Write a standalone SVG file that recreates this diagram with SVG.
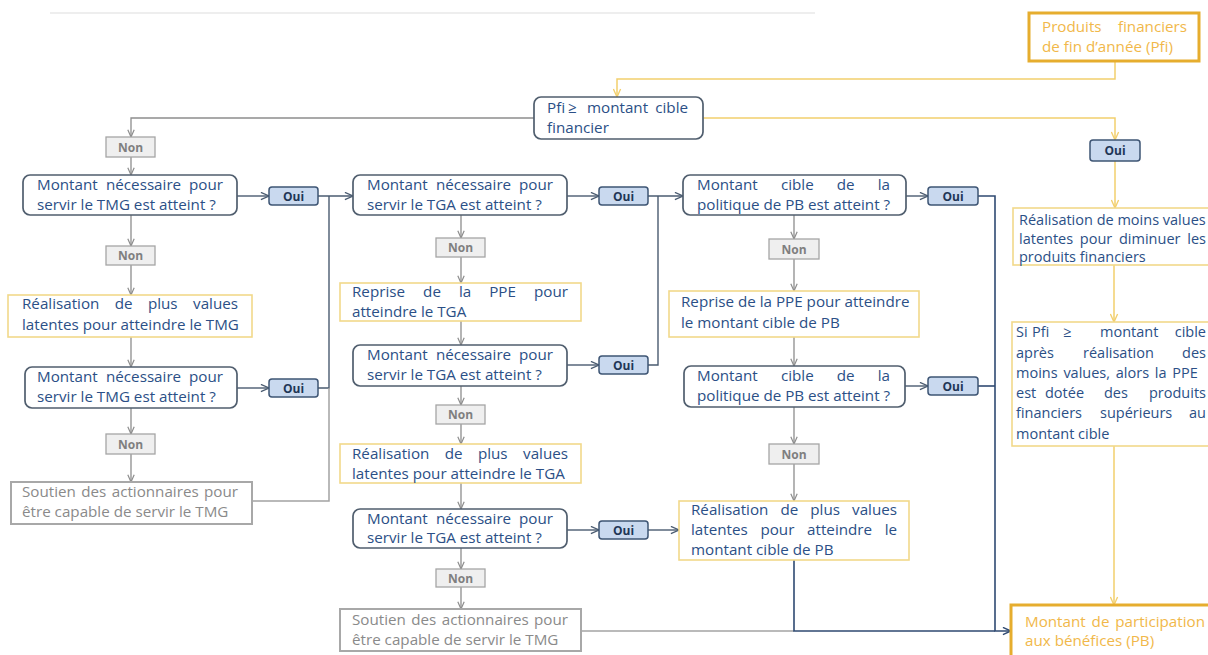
<svg xmlns="http://www.w3.org/2000/svg" width="1208" height="655" viewBox="0 0 1208 655">
  <defs>
    <style>
      .t { font-family: "Open Sans", "Noto Sans", sans-serif; font-size: 15.2px; fill: #2b4f86; }
      .s { font-size: 14.5px; }
      .e { text-anchor: end; }
      .tg { fill: #8a8a8a; }
      .to { fill: #f1b84a; }
      .lab { font-family: "Open Sans", "Noto Sans", sans-serif; font-weight: bold; font-size: 12px; text-anchor: middle; }
      .oui rect { fill: #c9d9ef; stroke: #3e5574; stroke-width: 1.5; }
      .oui text { fill: #1f3656; }
      .non rect { fill: #efefef; stroke: #a5a5a5; stroke-width: 1.3; }
      .non text { fill: #7f7f7f; }
      .dec { fill: #ffffff; stroke: #505e6e; stroke-width: 1.7; }
      .act { fill: #ffffff; stroke: #f2d98a; stroke-width: 1.6; }
      .sup { fill: #ffffff; stroke: #a8a8a8; stroke-width: 2; }
      .key { fill: #ffffff; stroke: #e6ad2e; stroke-width: 3; }
      .cg { fill: none; stroke: #8d8d8d; stroke-width: 1.3; }
      .cs { fill: none; stroke: #4a5b70; stroke-width: 1.4; }
      .cy { fill: none; stroke: #f2cf6d; stroke-width: 1.5; }
      .cb { fill: none; stroke: #2f4a72; stroke-width: 1.6; }
      .cl { fill: none; stroke: #a3a3a3; stroke-width: 1.5; }
    </style>
    <marker id="ag" viewBox="0 0 10 10" refX="10" refY="5" markerWidth="8" markerHeight="8" markerUnits="userSpaceOnUse" orient="auto">
      <path d="M1,1 L10,5 L1,9" fill="none" stroke="#8d8d8d" stroke-width="1.5"/>
    </marker>
    <marker id="as" viewBox="0 0 10 10" refX="10" refY="5" markerWidth="9" markerHeight="9" markerUnits="userSpaceOnUse" orient="auto">
      <path d="M1,1 L10,5 L1,9" fill="none" stroke="#4a5b70" stroke-width="1.5"/>
    </marker>
    <marker id="ay" viewBox="0 0 10 10" refX="10" refY="5" markerWidth="9" markerHeight="9" markerUnits="userSpaceOnUse" orient="auto">
      <path d="M1,1 L10,5 L1,9" fill="none" stroke="#f2cf6d" stroke-width="1.5"/>
    </marker>
    <marker id="ab" viewBox="0 0 10 10" refX="10" refY="5" markerWidth="9" markerHeight="9" markerUnits="userSpaceOnUse" orient="auto">
      <path d="M1,1 L10,5 L1,9" fill="none" stroke="#2f4a72" stroke-width="1.6"/>
    </marker>
  </defs>

  <rect width="1208" height="655" fill="#ffffff"/>
  <!-- faint page rule at the top -->
  <line x1="50" y1="13" x2="815" y2="13" stroke="#eeeeee" stroke-width="2"/>

  <g id="connectors">
    <!-- yellow flow -->
    <polyline class="cy" points="1115,62 1115,79 617,79 617,97" marker-end="url(#ay)"/>
    <polyline class="cy" points="703,118 1115,118 1115,140" marker-end="url(#ay)"/>
    <line class="cy" x1="1115" y1="161" x2="1115" y2="208" marker-end="url(#ay)"/>
    <line class="cy" x1="1114" y1="265" x2="1114" y2="322" marker-end="url(#ay)"/>
    <line class="cy" x1="1114" y1="446" x2="1114" y2="605" marker-end="url(#ay)"/>

    <!-- left column -->
    <polyline class="cg" points="534,118 131,118 131,137" marker-end="url(#ag)"/>
    <line class="cg" x1="131" y1="157" x2="131" y2="175" marker-end="url(#ag)"/>
    <line class="cg" x1="131" y1="215" x2="131" y2="246" marker-end="url(#ag)"/>
    <line class="cg" x1="131" y1="265" x2="131" y2="295" marker-end="url(#ag)"/>
    <line class="cg" x1="131" y1="337" x2="131" y2="367" marker-end="url(#ag)"/>
    <line class="cg" x1="131" y1="408" x2="131" y2="434" marker-end="url(#ag)"/>
    <line class="cg" x1="131" y1="454" x2="131" y2="482" marker-end="url(#ag)"/>

    <line class="cs" x1="237" y1="196" x2="269" y2="196" marker-end="url(#as)"/>
    <line class="cs" x1="318" y1="196" x2="353" y2="196" marker-end="url(#as)"/>
    <line class="cs" x1="237" y1="388" x2="269" y2="388" marker-end="url(#as)"/>
    <polyline class="cs" points="318,388 329,388 329,196"/>
    <polyline class="cl" points="252,501 329,501 329,388"/>

    <!-- middle column -->
    <line class="cg" x1="461" y1="215" x2="461" y2="238" marker-end="url(#ag)"/>
    <line class="cg" x1="461" y1="257" x2="461" y2="283" marker-end="url(#ag)"/>
    <line class="cg" x1="461" y1="321" x2="461" y2="345" marker-end="url(#ag)"/>
    <line class="cg" x1="461" y1="386" x2="461" y2="405" marker-end="url(#ag)"/>
    <line class="cg" x1="461" y1="424" x2="461" y2="444" marker-end="url(#ag)"/>
    <line class="cg" x1="461" y1="483" x2="461" y2="509" marker-end="url(#ag)"/>
    <line class="cg" x1="461" y1="548" x2="461" y2="569" marker-end="url(#ag)"/>
    <line class="cg" x1="461" y1="587" x2="461" y2="609" marker-end="url(#ag)"/>

    <line class="cs" x1="567" y1="196" x2="599" y2="196" marker-end="url(#as)"/>
    <line class="cs" x1="648" y1="196" x2="683" y2="196" marker-end="url(#as)"/>
    <line class="cs" x1="567" y1="365" x2="599" y2="365" marker-end="url(#as)"/>
    <polyline class="cs" points="648,365 658,365 658,196"/>
    <line class="cs" x1="567" y1="530" x2="599" y2="530" marker-end="url(#as)"/>
    <line class="cs" x1="648" y1="530" x2="679" y2="530" marker-end="url(#as)"/>
    <line class="cl" x1="581" y1="631" x2="794" y2="631"/>

    <!-- right column -->
    <line class="cg" x1="794" y1="215" x2="794" y2="239" marker-end="url(#ag)"/>
    <line class="cg" x1="794" y1="259" x2="794" y2="291" marker-end="url(#ag)"/>
    <line class="cg" x1="794" y1="337" x2="794" y2="366" marker-end="url(#ag)"/>
    <line class="cg" x1="794" y1="407" x2="794" y2="444" marker-end="url(#ag)"/>
    <line class="cg" x1="794" y1="464" x2="794" y2="501" marker-end="url(#ag)"/>

    <line class="cs" x1="906" y1="196" x2="928" y2="196" marker-end="url(#as)"/>
    <line class="cs" x1="905" y1="386" x2="928" y2="386" marker-end="url(#as)"/>
    <polyline class="cb" points="978,196 995,196 995,631 1011,631" marker-end="url(#ab)"/>
    <line class="cb" x1="978" y1="386" x2="995" y2="386"/>
    <polyline class="cb" points="794,560 794,631 995,631"/>
  </g>

  <g id="pfi-source">
    <rect class="key" x="1029" y="13" width="170" height="48"/>
    <text class="t to" x="1042" y="32">Produits</text>
    <text class="t to e" x="1187" y="32">financiers</text>
    <text class="t to" x="1042" y="52">de fin d’année (Pfi)</text>
  </g>

  <g id="pfi-test">
    <rect class="dec" x="534" y="97" width="169" height="42" rx="7"/>
    <text class="t" y="113"><tspan x="547">Pfi</tspan><tspan x="568">≥</tspan><tspan x="587">montant</tspan></text>
    <text class="t e" x="688" y="113">cible</text>
    <text class="t" x="547" y="133">financier</text>
  </g>

  <!-- left column: TMG -->
  <g id="non-1" class="non"><rect x="106" y="137" width="49" height="20"/><text class="lab" x="130.5" y="151.5">Non</text></g>
  <g id="tmg-test-1">
    <rect class="dec" x="23" y="175" width="214" height="40" rx="7"/>
    <text class="t" y="190"><tspan x="37">Montant</tspan><tspan x="106">nécessaire</tspan></text>
    <text class="t e" x="223" y="190">pour</text>
    <text class="t" x="37" y="210">servir le TMG est atteint ?</text>
  </g>
  <g id="oui-1" class="oui"><rect x="269" y="187" width="49" height="18" rx="3"/><text class="lab" x="293.5" y="200.5">Oui</text></g>
  <g id="non-2" class="non"><rect x="106" y="246" width="49" height="19"/><text class="lab" x="130.5" y="260">Non</text></g>
  <g id="tmg-pv">
    <rect class="act" x="8" y="295" width="244" height="42"/>
    <text class="t" y="309"><tspan x="22">Réalisation</tspan><tspan x="114.8">de</tspan><tspan x="147.9">plus</tspan></text>
    <text class="t e" x="238" y="309">values</text>
    <text class="t" x="22" y="330">latentes pour atteindre le TMG</text>
  </g>
  <g id="tmg-test-2">
    <rect class="dec" x="25" y="367" width="212" height="41" rx="7"/>
    <text class="t" y="382"><tspan x="37">Montant</tspan><tspan x="106">nécessaire</tspan></text>
    <text class="t e" x="223" y="382">pour</text>
    <text class="t" x="37" y="402">servir le TMG est atteint ?</text>
  </g>
  <g id="oui-2" class="oui"><rect x="269" y="379" width="49" height="18" rx="3"/><text class="lab" x="293.5" y="392.5">Oui</text></g>
  <g id="non-3" class="non"><rect x="106" y="434" width="49" height="20"/><text class="lab" x="130.5" y="448.5">Non</text></g>
  <g id="tmg-soutien">
    <rect class="sup" x="11" y="482" width="241" height="42"/>
    <text class="t tg" y="497"><tspan x="22">Soutien</tspan><tspan x="81.2">des</tspan><tspan x="111.7">actionnaires</tspan></text>
    <text class="t tg e" x="238" y="497">pour</text>
    <text class="t tg" x="22" y="517">être capable de servir le TMG</text>
  </g>

  <!-- middle column: TGA -->
  <g id="tga-test-1">
    <rect class="dec" x="353" y="175" width="214" height="40" rx="7"/>
    <text class="t" y="190"><tspan x="367">Montant</tspan><tspan x="436">nécessaire</tspan></text>
    <text class="t e" x="553" y="190">pour</text>
    <text class="t" x="367" y="210">servir le TGA est atteint ?</text>
  </g>
  <g id="oui-b1" class="oui"><rect x="599" y="187" width="49" height="18" rx="3"/><text class="lab" x="623.5" y="200.5">Oui</text></g>
  <g id="non-b1" class="non"><rect x="436" y="238" width="49" height="19"/><text class="lab" x="460.5" y="252">Non</text></g>
  <g id="tga-ppe">
    <rect class="act" x="340" y="283" width="241" height="38"/>
    <text class="t" y="297"><tspan x="352">Reprise</tspan><tspan x="423.1">de</tspan><tspan x="458.9">la</tspan><tspan x="489.2">PPE</tspan></text>
    <text class="t e" x="568" y="297">pour</text>
    <text class="t" x="352" y="317">atteindre le TGA</text>
  </g>
  <g id="tga-test-2">
    <rect class="dec" x="353" y="345" width="214" height="41" rx="7"/>
    <text class="t" y="359.5"><tspan x="367">Montant</tspan><tspan x="436">nécessaire</tspan></text>
    <text class="t e" x="553" y="359.5">pour</text>
    <text class="t" x="367" y="379.5">servir le TGA est atteint ?</text>
  </g>
  <g id="oui-b2" class="oui"><rect x="599" y="356" width="49" height="18" rx="3"/><text class="lab" x="623.5" y="369.5">Oui</text></g>
  <g id="non-b2" class="non"><rect x="436" y="405" width="49" height="19"/><text class="lab" x="460.5" y="419">Non</text></g>
  <g id="tga-pv">
    <rect class="act" x="340" y="444" width="241" height="39"/>
    <text class="t" y="459"><tspan x="352">Réalisation</tspan><tspan x="444.8">de</tspan><tspan x="477.9">plus</tspan></text>
    <text class="t e" x="568" y="459">values</text>
    <text class="t" x="352" y="479">latentes pour atteindre le TGA</text>
  </g>
  <g id="tga-test-3">
    <rect class="dec" x="353" y="509" width="214" height="39" rx="7"/>
    <text class="t" y="524"><tspan x="367">Montant</tspan><tspan x="436">nécessaire</tspan></text>
    <text class="t e" x="553" y="524">pour</text>
    <text class="t" x="367" y="543">servir le TGA est atteint ?</text>
  </g>
  <g id="oui-b3" class="oui"><rect x="599" y="521" width="49" height="18" rx="3"/><text class="lab" x="623.5" y="534.5">Oui</text></g>
  <g id="non-b3" class="non"><rect x="436" y="569" width="49" height="18"/><text class="lab" x="460.5" y="582.5">Non</text></g>
  <g id="tga-soutien">
    <rect class="sup" x="340" y="609" width="241" height="42"/>
    <text class="t tg" y="625"><tspan x="352">Soutien</tspan><tspan x="411.2">des</tspan><tspan x="441.7">actionnaires</tspan></text>
    <text class="t tg e" x="568" y="625">pour</text>
    <text class="t tg" x="352" y="645">être capable de servir le TMG</text>
  </g>

  <!-- right column: PB target -->
  <g id="pb-test-1">
    <rect class="dec" x="683" y="175" width="223" height="40" rx="7"/>
    <text class="t" y="190"><tspan x="697">Montant</tspan><tspan x="780.9">cible</tspan><tspan x="836.8">de</tspan></text>
    <text class="t e" x="890" y="190">la</text>
    <text class="t" x="697" y="210">politique de PB est atteint ?</text>
  </g>
  <g id="oui-c1" class="oui"><rect x="928" y="187" width="50" height="18" rx="3"/><text class="lab" x="953" y="200.5">Oui</text></g>
  <g id="non-c1" class="non"><rect x="769" y="239" width="50" height="20"/><text class="lab" x="794" y="253.5">Non</text></g>
  <g id="pb-ppe">
    <rect class="act" x="669" y="291" width="250" height="46"/>
    <text class="t" x="681" y="307">Reprise de la PPE pour atteindre</text>
    <text class="t" x="681" y="328">le montant cible de PB</text>
  </g>
  <g id="pb-test-2">
    <rect class="dec" x="684" y="366" width="221" height="41" rx="7"/>
    <text class="t" y="380.5"><tspan x="697">Montant</tspan><tspan x="780.9">cible</tspan><tspan x="836.8">de</tspan></text>
    <text class="t e" x="890" y="380.5">la</text>
    <text class="t" x="697" y="400.5">politique de PB est atteint ?</text>
  </g>
  <g id="oui-c2" class="oui"><rect x="928" y="377" width="50" height="18" rx="3"/><text class="lab" x="953" y="390.5">Oui</text></g>
  <g id="non-c2" class="non"><rect x="769" y="444" width="50" height="20"/><text class="lab" x="794" y="458.5">Non</text></g>
  <g id="pb-pv">
    <rect class="act" x="679" y="501" width="230" height="59"/>
    <text class="t" y="515"><tspan x="691">Réalisation</tspan><tspan x="780.5">de</tspan><tspan x="810.3">plus</tspan></text>
    <text class="t e" x="897" y="515">values</text>
    <text class="t" y="535"><tspan x="691">latentes</tspan><tspan x="760.4">pour</tspan><tspan x="807.1">atteindre</tspan></text>
    <text class="t e" x="897" y="535">le</text>
    <text class="t" x="691" y="555">montant cible de PB</text>
  </g>

  <!-- far right: Pfi above target -->
  <g id="oui-d" class="oui"><rect x="1090" y="140" width="50" height="21" rx="3"/><text class="lab" x="1115" y="155">Oui</text></g>
  <g id="mv-realisation">
    <rect class="act" x="1013" y="208" width="210" height="57"/>
    <text class="t s" x="1019" y="225">Réalisation de moins values</text>
    <text class="t s" y="244"><tspan x="1019">latentes</tspan><tspan x="1079.8">pour</tspan><tspan x="1119">diminuer</tspan></text>
    <text class="t s e" x="1206" y="244">les</text>
    <text class="t s" x="1019" y="262">produits financiers</text>
  </g>
  <g id="ppe-dotation">
    <rect class="act" x="1012" y="322" width="210" height="124"/>
    <text class="t s" y="337"><tspan x="1016">Si</tspan><tspan x="1032">Pfi</tspan><tspan x="1063">≥</tspan><tspan x="1100">montant</tspan></text>
    <text class="t s e" x="1206" y="337">cible</text>
    <text class="t s" y="357.5"><tspan x="1016">après</tspan><tspan x="1083">réalisation</tspan></text>
    <text class="t s e" x="1206" y="357.5">des</text>
    <text class="t s" x="1016" y="378" word-spacing="2">moins values, alors la PPE</text>
    <text class="t s" y="398"><tspan x="1016">est</tspan><tspan x="1045">dotée</tspan><tspan x="1104">des</tspan></text>
    <text class="t s e" x="1206" y="398">produits</text>
    <text class="t s" y="418"><tspan x="1016">financiers</tspan><tspan x="1100">supérieurs</tspan></text>
    <text class="t s e" x="1206" y="418">au</text>
    <text class="t s" x="1016" y="439">montant cible</text>
  </g>
  <g id="pb-result">
    <rect class="key" x="1011" y="605" width="210" height="60"/>
    <text class="t to" y="627"><tspan x="1025">Montant</tspan><tspan x="1091.6">de</tspan></text>
    <text class="t to e" x="1205" y="627">participation</text>
    <text class="t to" x="1025" y="646">aux bénéfices (PB)</text>
  </g>
</svg>
